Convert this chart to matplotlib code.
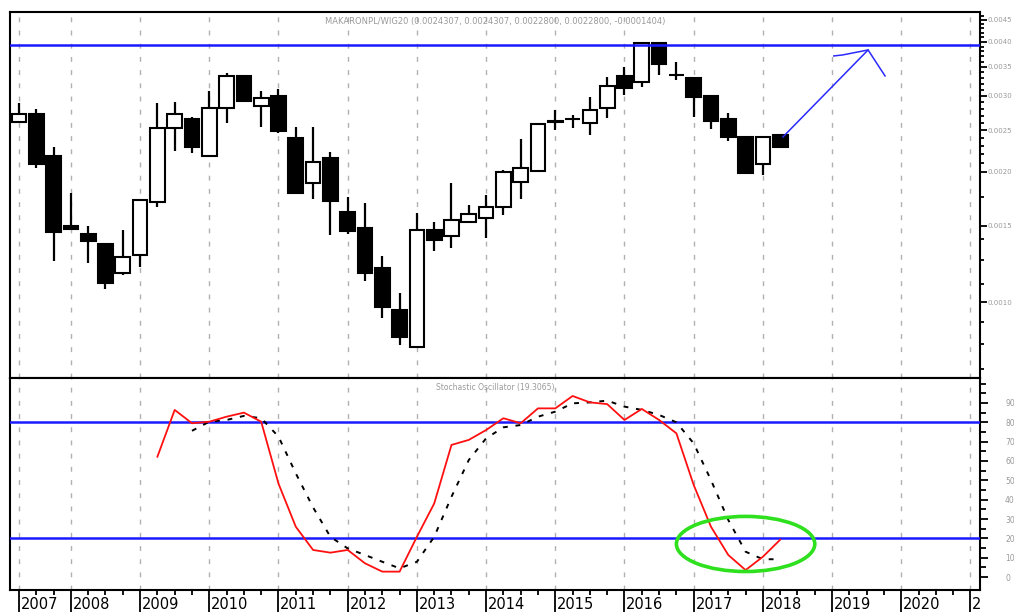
import matplotlib
matplotlib.use("Agg")
import matplotlib.pyplot as plt
from matplotlib.patches import Ellipse
from matplotlib.ticker import FixedLocator, NullFormatter, FormatStrFormatter
import matplotlib.transforms as mtransforms

# quarterly candles, Q2 2007 .. Q2 2018 (index 0 = Q2 2007)
opens = [0.002610, 0.002724, 0.002178, 0.001500, 0.001437, 0.001362, 0.001167, 0.001285,
         0.001704, 0.002528, 0.002652, 0.002178, 0.002813, 0.003336, 0.002843, 0.002998,
         0.002397, 0.001886, 0.002155, 0.001616, 0.001484, 0.001199, 0.000958, 0.000787,
         0.001468, 0.001422, 0.001532, 0.001565, 0.001659, 0.001896, 0.002010, 0.002610,
         0.002645, 0.002597, 0.002813, 0.003336, 0.003231, 0.003977, 0.003360, 0.003300,
         0.002998, 0.002652, 0.002410, 0.002087, 0.0024307]
highs = [0.002889, 0.002798, 0.002285, 0.001788, 0.001500, 0.001370, 0.001468, 0.001732,
         0.002889, 0.002904, 0.002681, 0.003079, 0.003390, 0.003336, 0.003079, 0.003112,
         0.002542, 0.002542, 0.002225, 0.001750, 0.001695, 0.001278, 0.001049, 0.001607,
         0.001532, 0.001886, 0.001677, 0.001769, 0.002021, 0.002384, 0.002597, 0.002783,
         0.002710, 0.002982, 0.003318, 0.003500, 0.003977, 0.003977, 0.003594, 0.003300,
         0.002998, 0.002739, 0.002423, 0.002410, 0.0024307]
lows = [0.002600, 0.002043, 0.001244, 0.001470, 0.001231, 0.001072, 0.001155, 0.001205,
        0.001659, 0.002236, 0.002213, 0.002178, 0.002597, 0.002904, 0.002542, 0.002462,
        0.001788, 0.001732, 0.001429, 0.001437, 0.001118, 0.000918, 0.000795, 0.000787,
        0.001312, 0.001334, 0.001532, 0.001407, 0.001590, 0.001732, 0.002010, 0.002501,
        0.002528, 0.002436, 0.002667, 0.003014, 0.003146, 0.003353, 0.003266, 0.002681,
        0.002515, 0.002359, 0.001989, 0.001968, 0.002280]
closes = [0.002724, 0.002087, 0.001452, 0.001476, 0.001384, 0.001107, 0.001271, 0.001722,
          0.002528, 0.002724, 0.002285, 0.002813, 0.003336, 0.002919, 0.002967, 0.002488,
          0.001788, 0.002109, 0.001713, 0.001460, 0.001167, 0.000974, 0.000830, 0.001468,
          0.001392, 0.001548, 0.001599, 0.001659, 0.002000, 0.002043, 0.002583, 0.002630,
          0.002652, 0.002783, 0.003163, 0.003129, 0.003977, 0.003556, 0.003350, 0.002982,
          0.002624, 0.002410, 0.001989, 0.002410, 0.002280]

# stochastic oscillator
k_start = 8
k_values = [62.2, 86.4, 79.5, 80.3, 82.9, 85.0, 80.3, 48.3, 26.0, 14.0, 12.6, 14.0, 7.1,
            2.8, 2.8, 20.8, 38.0, 68.3, 70.9, 76.0, 82.1, 79.5, 87.2, 87.2, 93.6, 90.3,
            89.4, 81.2, 86.9, 81.2, 74.3, 47.6, 26.0, 11.4, 3.6, 10.5, 19.3]
d_start = 10
d_values = [75.6, 80.3, 81.2, 83.3, 82.1, 72.6, 53.6, 36.0, 20.8, 14.8, 11.4, 7.9, 4.5,
            7.9, 20.8, 41.5, 60.5, 71.7, 77.4, 78.6, 82.9, 85.5, 89.8, 90.3, 91.2, 88.1,
            86.4, 83.8, 80.0, 69.1, 50.1, 29.5, 13.1, 9.2, 9.2]

# year gridlines / labels (quarter index of the first bar in each year)
year_pos = [0, 3, 7, 11, 15, 19, 23, 27, 31, 35, 39, 43, 47, 51, 55]
year_labels = ["2007", "2008", "2009", "2010", "2011", "2012", "2013", "2014",
               "2015", "2016", "2017", "2018", "2019", "2020", "2"]

resistance = 0.00394
osc_levels = [80, 20]

# hand-drawn annotations
arrow_shaft_x = [44.16, 49.08]
arrow_shaft_y = [0.002410, 0.003831]
arrow_head_x = [47.1, 47.6, 49.08, 50.06]
arrow_head_y = [0.003711, 0.003730, 0.003831, 0.003336]
circle_center = (42.0, 17.1)
circle_size = (8.0, 28.5)

title_top = "MAKARONPL/WIG20 (0.0024307, 0.0024307, 0.0022800, 0.0022800, -0.0001404)"
title_osc = "Stochastic Oscillator (19.3065)"

W, H = 1014, 613
fig = plt.figure(figsize=(W / 100, H / 100), dpi=100)
ax1 = fig.add_axes([10 / W, 1 - 378 / H, 970 / W, 366 / H])
ax2 = fig.add_axes([10 / W, 1 - 590 / H, 970 / W, 212 / H])

xlim = (-0.52, 55.55)
grid_kw = dict(color="#b0b0b0", lw=1, ls=(0, (3.5, 6)), zorder=1)

# ---- price panel
ax1.set_yscale("log")
for p in year_pos:
    ax1.axvline(p, **grid_kw)

idx = list(range(len(opens)))
ax1.vlines(idx, lows, highs, color="black", lw=1.6, zorder=2)
for i in idx:
    o, c = opens[i], closes[i]
    lo, hi = min(o, c), max(o, c)
    face = "white" if c > o else "black"
    ax1.bar(i, hi - lo, bottom=lo, width=0.85, color=face, edgecolor="black",
            lw=1.5, zorder=3)

ax1.axhline(resistance, color="#1a1aff", lw=1.8, zorder=4)
ax1.plot(arrow_shaft_x, arrow_shaft_y, color="#2a2aff", lw=1.1, zorder=5)
ax1.plot(arrow_head_x, arrow_head_y, color="#2a2aff", lw=1.1, zorder=5)

ax1.set_xlim(*xlim)
ax1.set_ylim(0.000667, 0.00469)
ax1.set_xticks([])
ax1.yaxis.tick_right()
ax1.yaxis.set_major_locator(FixedLocator([0.0010, 0.0015, 0.0020, 0.0025,
                                          0.0030, 0.0035, 0.0040, 0.0045]))
ax1.yaxis.set_major_formatter(FormatStrFormatter("%.4f"))
minor = [0.0007, 0.0008, 0.0009, 0.0011, 0.00125, 0.0014, 0.00175]
minor += [0.0020 + 0.0001 * k for k in range(1, 27) if k % 5]
ax1.yaxis.set_minor_locator(FixedLocator(minor))
ax1.yaxis.set_minor_formatter(NullFormatter())
ax1.tick_params(axis="y", which="major", length=5, width=1.3, labelsize=5,
                labelcolor="#9a9a9a", pad=0.5)
ax1.tick_params(axis="y", which="minor", length=3, width=1.3)
ax1.text(0.5, 0.9727, title_top, transform=ax1.transAxes, ha="center", va="center",
         fontsize=6, color="#9a9a9a")

# ---- oscillator panel
for p in year_pos:
    ax2.axvline(p, **grid_kw)
for lv in osc_levels:
    ax2.axhline(lv, color="#1a1aff", lw=1.8, zorder=3)

k_x = list(range(k_start, k_start + len(k_values)))
d_x = list(range(d_start, d_start + len(d_values)))
ax2.plot(d_x, d_values, color="black", lw=1.4, ls=(0, (2.5, 4)), zorder=4)
ax2.plot(k_x, k_values, color="#ff1010", lw=1.3, zorder=5)
ax2.add_patch(Ellipse(circle_center, circle_size[0], circle_size[1], fill=False,
                      edgecolor="#2ee01e", lw=2.6, zorder=6))

ax2.set_xlim(*xlim)
ax2.set_ylim(-6.7, 102.9)
ax2.yaxis.tick_right()
ax2.set_yticks(range(0, 100, 10))
ax2.set_yticks([5 * k for k in range(0, 21) if k % 2 or k == 20], minor=True)
ax2.tick_params(axis="y", which="major", length=6, width=1.3, labelsize=5.5,
                labelcolor="#9a9a9a", pad=12)
ax2.tick_params(axis="y", which="minor", length=4, width=1.3)

ax2.set_xticks(year_pos)
ax2.set_xticklabels([])
ax2.set_xticks(range(0, 56), minor=True)
ax2.tick_params(axis="x", which="major", length=16, width=1.3, direction="out")
ax2.tick_params(axis="x", which="minor", length=3.5, width=1.3, direction="out")
trans = mtransforms.blended_transform_factory(ax2.transData, ax2.transAxes)
for p, lab in zip(year_pos, year_labels):
    ax2.text(p + 0.1, -0.035, lab, transform=trans, ha="left", va="top",
             fontsize=10.5, color="black")
ax2.text(0.5, 0.9575, title_osc, transform=ax2.transAxes, ha="center", va="center",
         fontsize=5.5, color="#9a9a9a")

for ax in (ax1, ax2):
    for s in ax.spines.values():
        s.set_linewidth(1.5)

fig.savefig("out.png", dpi=100)
